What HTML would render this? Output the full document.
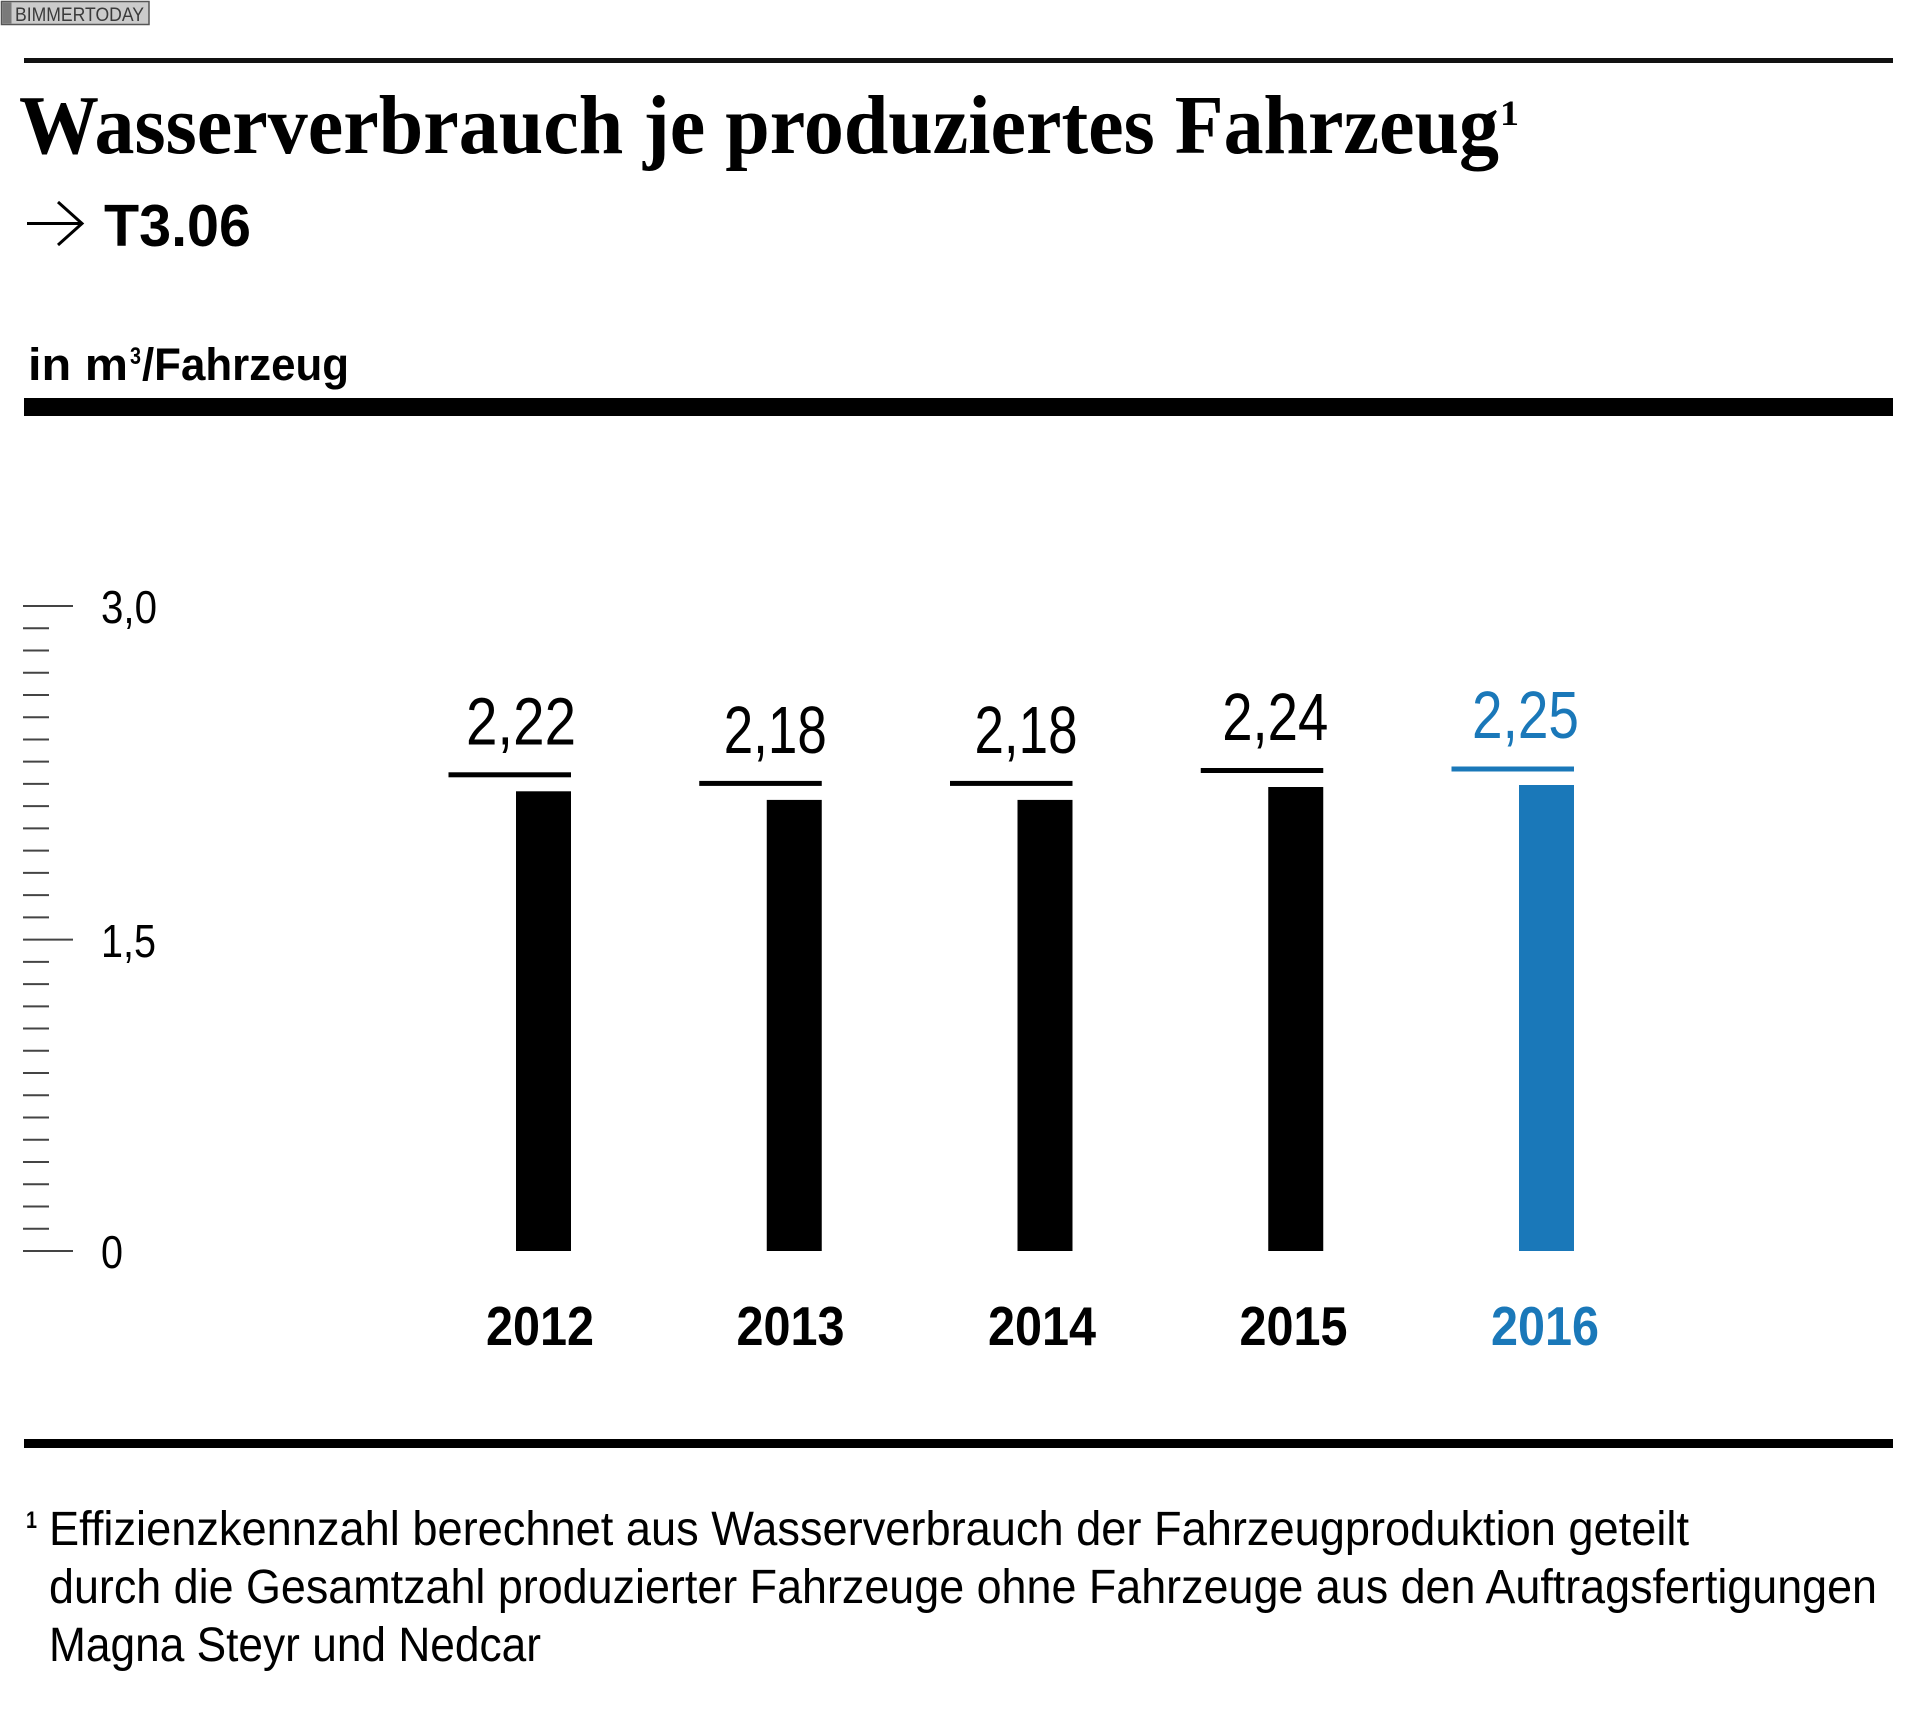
<!DOCTYPE html>
<html>
<head>
<meta charset="utf-8">
<style>
html,body{margin:0;padding:0;background:#fff;}
svg{display:block;}
</style>
</head>
<body>
<svg width="1920" height="1715" viewBox="0 0 1920 1715" xmlns="http://www.w3.org/2000/svg">
<rect x="0" y="0" width="1920" height="1715" fill="#fff"/>

<!-- watermark -->
<rect x="1.5" y="1.5" width="147.5" height="23" fill="#cbcbcb" stroke="#555" stroke-width="1.5"/>
<rect x="2.5" y="2.5" width="9" height="21" fill="#7a7a7a"/>
<text x="15" y="21" font-family="Liberation Sans, sans-serif" font-size="19" fill="#3a3a3a" textLength="129" lengthAdjust="spacingAndGlyphs">BIMMERTODAY</text>

<!-- top rule -->
<rect x="24" y="58" width="1869" height="5" fill="#111"/>

<!-- title -->
<text x="19" y="153" font-family="Liberation Serif, serif" font-weight="bold" font-size="84" fill="#000" textLength="1480" lengthAdjust="spacingAndGlyphs">Wasserverbrauch je produziertes Fahrzeug</text>
<text x="1500" y="125" font-family="Liberation Serif, serif" font-weight="bold" font-size="36" fill="#000" textLength="19" lengthAdjust="spacingAndGlyphs">1</text>

<!-- arrow + T3.06 -->
<line x1="27" y1="223.5" x2="81" y2="223.5" stroke="#000" stroke-width="3"/>
<polyline points="58,202 82,223.5 58,245" fill="none" stroke="#000" stroke-width="3"/>
<text x="104" y="246" font-family="Liberation Sans, sans-serif" font-weight="bold" font-size="59" fill="#000" textLength="147" lengthAdjust="spacingAndGlyphs">T3.06</text>

<!-- unit -->
<text x="28" y="380" font-family="Liberation Sans, sans-serif" font-weight="bold" font-size="45" fill="#000" textLength="100" lengthAdjust="spacingAndGlyphs">in m</text>
<text x="130" y="364" font-family="Liberation Sans, sans-serif" font-weight="bold" font-size="24" fill="#000" textLength="11" lengthAdjust="spacingAndGlyphs">3</text>
<text x="142" y="380" font-family="Liberation Sans, sans-serif" font-weight="bold" font-size="45" fill="#000" textLength="207" lengthAdjust="spacingAndGlyphs">/Fahrzeug</text>

<!-- thick rule -->
<rect x="24" y="398" width="1869" height="18" fill="#000"/>

<!-- y axis ticks -->
<g stroke="#444" stroke-width="2">
<line x1="23" y1="606" x2="73" y2="606"/>
<line x1="23" y1="628.24" x2="49" y2="628.24"/>
<line x1="23" y1="650.48" x2="49" y2="650.48"/>
<line x1="23" y1="672.72" x2="49" y2="672.72"/>
<line x1="23" y1="694.96" x2="49" y2="694.96"/>
<line x1="23" y1="717.2" x2="49" y2="717.2"/>
<line x1="23" y1="739.44" x2="49" y2="739.44"/>
<line x1="23" y1="761.68" x2="49" y2="761.68"/>
<line x1="23" y1="783.92" x2="49" y2="783.92"/>
<line x1="23" y1="806.16" x2="49" y2="806.16"/>
<line x1="23" y1="828.4" x2="49" y2="828.4"/>
<line x1="23" y1="850.64" x2="49" y2="850.64"/>
<line x1="23" y1="872.88" x2="49" y2="872.88"/>
<line x1="23" y1="895.12" x2="49" y2="895.12"/>
<line x1="23" y1="917.36" x2="49" y2="917.36"/>
<line x1="23" y1="939.6" x2="73" y2="939.6"/>
<line x1="23" y1="961.84" x2="49" y2="961.84"/>
<line x1="23" y1="984.08" x2="49" y2="984.08"/>
<line x1="23" y1="1006.32" x2="49" y2="1006.32"/>
<line x1="23" y1="1028.56" x2="49" y2="1028.56"/>
<line x1="23" y1="1050.8" x2="49" y2="1050.8"/>
<line x1="23" y1="1073.04" x2="49" y2="1073.04"/>
<line x1="23" y1="1095.28" x2="49" y2="1095.28"/>
<line x1="23" y1="1117.52" x2="49" y2="1117.52"/>
<line x1="23" y1="1139.76" x2="49" y2="1139.76"/>
<line x1="23" y1="1162" x2="49" y2="1162"/>
<line x1="23" y1="1184.24" x2="49" y2="1184.24"/>
<line x1="23" y1="1206.48" x2="49" y2="1206.48"/>
<line x1="23" y1="1228.72" x2="49" y2="1228.72"/>
<line x1="23" y1="1251" x2="73" y2="1251"/>
</g>

<!-- y labels -->
<g font-family="Liberation Sans, sans-serif" font-size="46" fill="#000">
<text x="101" y="623" textLength="56" lengthAdjust="spacingAndGlyphs">3,0</text>
<text x="101" y="957" textLength="55" lengthAdjust="spacingAndGlyphs">1,5</text>
<text x="101" y="1268" textLength="22" lengthAdjust="spacingAndGlyphs">0</text>
</g>

<!-- bars -->
<rect x="448.5" y="772.3" width="122.5" height="5" fill="#000"/>
<rect x="516" y="791.3" width="55" height="459.7" fill="#000"/>
<text x="576" y="744.3" text-anchor="end" font-family="Liberation Sans, sans-serif" font-size="67" fill="#000" textLength="110" lengthAdjust="spacingAndGlyphs">2,22</text>

<rect x="699.25" y="780.9" width="122.5" height="5" fill="#000"/>
<rect x="766.75" y="799.9" width="55" height="451.1" fill="#000"/>
<text x="826.75" y="752.9" text-anchor="end" font-family="Liberation Sans, sans-serif" font-size="67" fill="#000" textLength="103" lengthAdjust="spacingAndGlyphs">2,18</text>

<rect x="950" y="780.9" width="122.5" height="5" fill="#000"/>
<rect x="1017.5" y="799.9" width="55" height="451.1" fill="#000"/>
<text x="1077.5" y="752.9" text-anchor="end" font-family="Liberation Sans, sans-serif" font-size="67" fill="#000" textLength="103" lengthAdjust="spacingAndGlyphs">2,18</text>

<rect x="1200.75" y="768" width="122.5" height="5" fill="#000"/>
<rect x="1268.25" y="787" width="55" height="464" fill="#000"/>
<text x="1328.25" y="740" text-anchor="end" font-family="Liberation Sans, sans-serif" font-size="67" fill="#000" textLength="106" lengthAdjust="spacingAndGlyphs">2,24</text>

<rect x="1451.5" y="766.5" width="122.5" height="5" fill="#1a78b9"/>
<rect x="1519" y="785" width="55" height="466" fill="#1a78b9"/>
<text x="1579" y="738" text-anchor="end" font-family="Liberation Sans, sans-serif" font-size="67" fill="#1a78b9" textLength="107" lengthAdjust="spacingAndGlyphs">2,25</text>

<!-- years -->
<g font-family="Liberation Sans, sans-serif" font-weight="bold" font-size="55" text-anchor="middle">
<text x="540" y="1345" fill="#000" textLength="108" lengthAdjust="spacingAndGlyphs">2012</text>
<text x="790.5" y="1345" fill="#000" textLength="108" lengthAdjust="spacingAndGlyphs">2013</text>
<text x="1042" y="1345" fill="#000" textLength="108" lengthAdjust="spacingAndGlyphs">2014</text>
<text x="1293.5" y="1345" fill="#000" textLength="108" lengthAdjust="spacingAndGlyphs">2015</text>
<text x="1545" y="1345" fill="#1a78b9" textLength="108" lengthAdjust="spacingAndGlyphs">2016</text>
</g>

<!-- bottom rule -->
<rect x="24" y="1439" width="1869" height="9" fill="#000"/>

<!-- footnote -->
<text x="26" y="1528" font-family="Liberation Sans, sans-serif" font-weight="bold" font-size="24" fill="#000" textLength="11" lengthAdjust="spacingAndGlyphs">1</text>
<g font-family="Liberation Sans, sans-serif" font-size="48" fill="#000">
<text x="49" y="1545" textLength="1640" lengthAdjust="spacingAndGlyphs">Effizienzkennzahl berechnet aus Wasserverbrauch der Fahrzeugproduktion geteilt</text>
<text x="49" y="1603" textLength="1828" lengthAdjust="spacingAndGlyphs">durch die Gesamtzahl produzierter Fahrzeuge ohne Fahrzeuge aus den Auftragsfertigungen</text>
<text x="49" y="1661" textLength="492" lengthAdjust="spacingAndGlyphs">Magna Steyr und Nedcar</text>
</g>
</svg>
</body>
</html>
